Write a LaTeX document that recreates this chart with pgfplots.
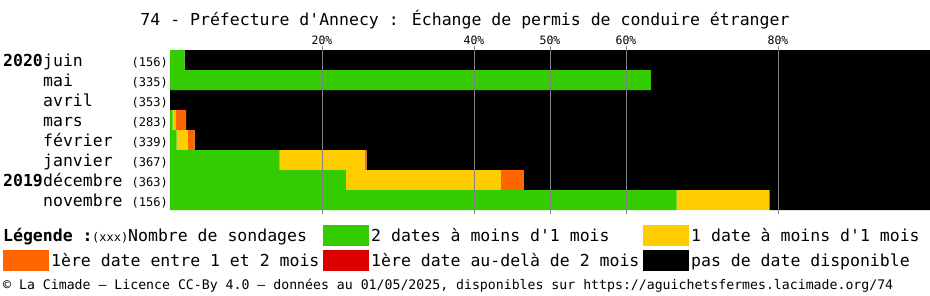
\documentclass[border=0pt]{standalone}
\usepackage{fontspec}
\setmainfont{DejaVu Sans Mono}[Ligatures=TeXOff]
\usepackage{pgfplots}
\pgfplotsset{compat=1.18}
\usepackage{pgfplotstable}
\definecolor{cgreen}{HTML}{33CC00}
\definecolor{cyellow}{HTML}{FFCC00}
\definecolor{corange}{HTML}{FF6600}
\definecolor{cred}{HTML}{DD0000}
\definecolor{cgrid}{HTML}{808080}
\newcommand\fbig{\fontsize{16.5}{18}\selectfont}
\newcommand\fsmall{\fontsize{12}{13}\selectfont}
\newcommand\ffoot{\fontsize{13.2}{14}\selectfont}
\newcommand\ftick{\fontsize{11.5}{12}\selectfont}
% row: 0=juin 2020 ... 7=novembre 2019 ; values in percent
\pgfplotstableread{
row g y o r b
0 1.92 0 0 0 98.08
1 63.28 0 0 0 36.72
2 0 0 0 0 100
3 0.35 0.35 1.41 0 97.89
4 0.885 1.475 0.885 0 96.755
5 14.44 11.17 0.27 0 74.12
6 23.14 20.39 3.03 0 53.44
7 66.67 12.18 0 0 21.15
}\data
\begin{document}
\begin{tikzpicture}[x=1pt,y=1pt]
\useasboundingbox (0pt,0pt) rectangle (930pt,-295pt);
\begin{axis}[
  at={(170pt,-210pt)}, anchor=south west,
  scale only axis, width=760pt, height=160pt,
  xmin=0, xmax=100, ymin=-0.5, ymax=7.5,
  y dir=reverse,
  xbar stacked, bar width=1,
  axis line style={draw=none},
  ytick=\empty,
  xtick={20,40,60,80},
  xticklabels={20\%,40\%,60\%,80\%},
  extra x ticks={50},
  extra x tick labels={50\%},
  extra x tick style={grid style={white, line width=1pt}},
  xmajorgrids=true,
  major grid style={cgrid, line width=1pt},
  xtick pos=both,
  xticklabel pos=upper,
  tick align=outside,
  major tick length=4pt,
  tick style={cgrid, line width=1pt},
  xticklabel style={font=\ftick, inner sep=1pt},
  /pgf/number format/assume math mode=true,
  axis on top,
]
\addplot[fill=cgreen, draw=none] table[x=g, y=row] {\data};
\addplot[fill=cyellow, draw=none] table[x=y, y=row] {\data};
\addplot[fill=corange, draw=none] table[x=o, y=row] {\data};
\addplot[fill=cred, draw=none] table[x=r, y=row] {\data};
\addplot[fill=black, draw=none] table[x=b, y=row] {\data};
\end{axis}
% title
\node[anchor=base, font=\fbig, inner sep=0] at (465,-25) {74 - Préfecture d'Annecy : Échange de permis de conduire étranger};
% row labels
\node[anchor=base west, font=\fbig\bfseries, inner sep=0] at (3,-66.5) {2020};
\node[anchor=base west, font=\fbig\bfseries, inner sep=0] at (3,-186.5) {2019};
\foreach \m [count=\i from 0] in {juin,mai,avril,mars,février,janvier,décembre,novembre}
  \node[anchor=base west, font=\fbig, inner sep=0] at (43,-66.5-20*\i) {\m};
\foreach \c [count=\i from 0] in {156,335,353,283,339,367,363,156}
  \node[anchor=base east, font=\fsmall, inner sep=0] at (168,-66-20*\i) {(\c)};
% legend
\node[anchor=base west, font=\fbig\bfseries, inner sep=0] at (3,-241.5) {Légende :};
\node[anchor=base west, font=\fsmall, inner sep=0] at (92,-241.5) {(xxx)};
\node[anchor=base west, font=\fbig, inner sep=0] at (128,-241.5) {Nombre de sondages};
\fill[cgreen] (323,-225) rectangle (369,-246);
\node[anchor=base west, font=\fbig, inner sep=0] at (371,-241.5) {2 dates à moins d'1 mois};
\fill[cyellow] (643,-225) rectangle (689,-246);
\node[anchor=base west, font=\fbig, inner sep=0] at (691,-241.5) {1 date à moins d'1 mois};
\fill[corange] (3,-250) rectangle (49,-271);
\node[anchor=base west, font=\fbig, inner sep=0] at (51,-266.5) {1ère date entre 1 et 2 mois};
\fill[cred] (323,-250) rectangle (369,-271);
\node[anchor=base west, font=\fbig, inner sep=0] at (371,-266.5) {1ère date au-delà de 2 mois};
\fill[black] (643,-250) rectangle (689,-271);
\node[anchor=base west, font=\fbig, inner sep=0] at (691,-266.5) {pas de date disponible};
% footer
\node[anchor=base west, font=\ffoot, inner sep=0] at (3,-289.5) {© La Cimade — Licence CC-By 4.0 — données au 01/05/2025, disponibles sur https://aguichetsfermes.lacimade.org/74};
\end{tikzpicture}
\end{document}
